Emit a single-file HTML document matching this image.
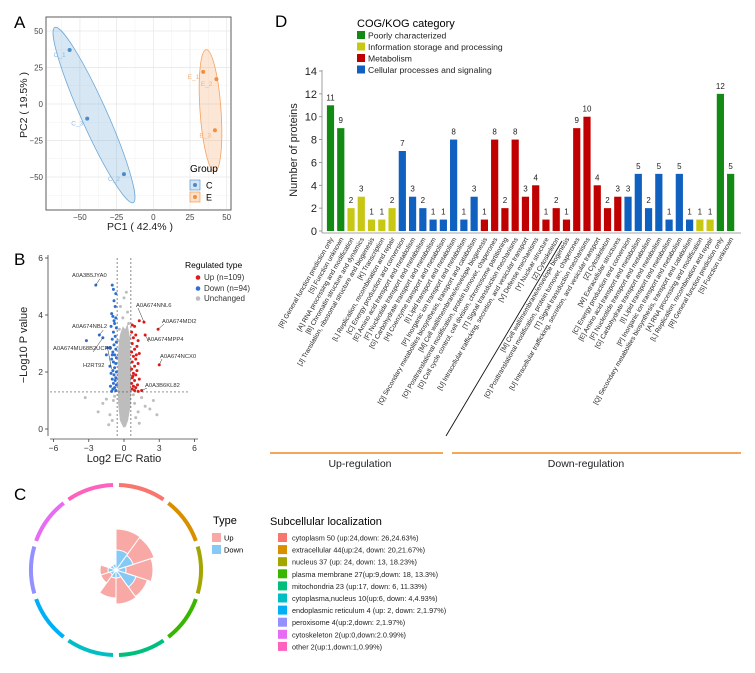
<!DOCTYPE html>
<html><head><meta charset="utf-8">
<style>
html,body{margin:0;padding:0;background:#fff;}
svg{display:block;font-family:"Liberation Sans",Arial,sans-serif;}
</style></head>
<body>
<svg id="fig" width="755" height="673" viewBox="0 0 755 673">
<g id="pA"></g>
<g id="pB"></g>
<g id="pC"></g>
<g id="pD"></g>
</svg>
<script>
// ---------- Panel A data ----------
const pcaNames = ["C_1","C_3","C_2","E_1","E_2","E_3"];
const pcaX = [-57,-45,-20,34,43,42];
const pcaY = [37,-10,-48,22,17,-18];
const pcaGroup = ["C","C","C","E","E","E"];
const pcaTicks = [-50,-25,0,25,50];
// ---------- Panel B data ----------
const volDownX=[-1.0,-0.9,-0.7,-0.85,-0.75,-1.05,-0.95,-0.7,-0.8,-1.1,-0.65,-0.9,-0.75,-1.0,-0.65,-0.85,-1.15,-0.7,-0.95,-0.8,-0.65,-1.05,-0.9,-0.7,-1.2,-0.8,-0.95,-0.65,-1.1,-0.85,-0.7,-1.0,-0.75,-0.9,-0.65,-1.15,-0.8,-0.95,-0.7,-1.05,-2.4,-3.2,-2.1,-1.8,-1.4,-1.5,-0.85,-1.0];
const volDownY=[5.05,4.9,4.75,4.5,4.3,4.05,3.95,3.9,3.7,3.6,3.55,3.4,3.25,3.15,3.05,2.95,2.85,2.8,2.7,2.6,2.5,2.45,2.35,2.3,2.2,2.15,2.05,2.0,1.95,1.9,1.8,1.75,1.7,1.6,1.55,1.5,1.45,1.4,1.35,1.32,5.05,3.1,3.3,3.2,2.85,2.6,3.8,2.6];
const volUpX=[0.7,0.9,1.3,1.7,2.9,1.8,0.65,1.0,0.8,1.2,0.7,1.1,0.9,0.65,1.3,0.8,1.0,0.7,1.2,3.0,0.9,0.65,1.1,0.8,1.0,0.7,1.3,0.9,0.65,1.15,0.8,1.0,0.7,1.5,0.9,1.2,0.75,1.05];
const volUpY=[3.65,3.6,3.8,3.75,3.5,3.3,3.4,3.3,3.2,3.1,3.0,2.9,2.8,2.7,2.65,2.55,2.45,2.35,2.3,2.25,2.2,2.1,2.05,1.95,1.9,1.8,1.75,1.7,1.6,1.55,1.5,1.45,1.4,1.35,1.35,1.32,1.85,2.6];
const volGreyX=[0.2,0,-0.3,0.3,-0.1,0.4,-0.4,0.1,0.5,-0.5,0.2,-0.2,0.45,-0.45,-3.3,2.5,1.8,-1.8,1.2,-1.2,2.2,-2.2,1.5,-1.5,0.9,-0.9,1.0,-1.0,2.8,0.8,-0.8,1.3,-1.3];
const volGreyY=[4.8,4.6,4.3,4.1,3.9,3.7,3.5,3.4,3.2,3.1,3.0,2.9,2.7,2.6,1.1,1.0,0.8,0.9,0.6,0.5,0.7,0.6,1.1,1.05,0.9,1.0,0.4,0.3,0.5,1.2,1.15,0.2,0.15];
const volTicksX=[-6,-3,0,3,6];
const volTicksY=[0,2,4,6];
const volLabels=["A0A3B5JYA0","A0A674NNL6","A0A674MDI2","A0A674NBL2","A0A674MU68B2UCP6","H2RT92","A0A674MPP4","A0A674NCX0","A0A3B6KL82"];
const volLabelPtX=[-2.4,1.7,2.9,-2.1,-1.8,-1.4,1.8,3.0,1.5];
const volLabelPtY=[5.05,3.75,3.5,3.3,3.2,2.85,3.3,2.25,1.35];
// ---------- Panel C data ----------
const locNames=["cytoplasm 50 (up:24,down: 26,24.63%)","extracellular 44(up:24, down: 20,21.67%)","nucleus 37 (up: 24, down: 13, 18.23%)","plasma membrane 27(up:9,down: 18, 13.3%)","mitochondria 23 (up:17, down: 6, 11.33%)","cytoplasma,nucleus 10(up:6, down: 4,4.93%)","endoplasmic reticulum 4 (up: 2, down: 2,1.97%)","peroxisome 4(up:2,down: 2,1.97%)","cytoskeleton 2(up:0,down:2.0.99%)","other 2(up:1,down:1,0.99%)"];
const locColors=["#F8766D","#D89000","#A3A500","#39B600","#00BF7D","#00BFC4","#00B0F6","#9590FF","#E76BF3","#FF62BC"];
const roseUp=[41,40,37,33,34,28,16,16,0,2];
const roseDown=[20,18,10,21,8,8,6,8,6,6];
// ---------- Panel D data ----------
const cogLabels=["[R] General function prediction only","[S] Function unknown","[A] RNA processing and modification","[B] Chromatin structure and dynamics","[J] Translation, ribosomal structure and biogenesis","[K] Transcription","[L] Replication, recombination and repair","[C] Energy production and conversion","[E] Amino acid transport and metabolism","[F] Nucleotide transport and metabolism","[G] Carbohydrate transport and metabolism","[H] Coenzyme transport and metabolism","[I] Lipid transport and metabolism","[P] Inorganic ion transport and metabolism","[Q] Secondary metabolites biosynthesis, transport and catabolism","[M] Cell wall/membrane/envelope biogenesis","[O] Posttranslational modification, protein turnover, chaperones","[D] Cell cycle control, cell division, chromosome partitioning","[T] Signal transduction mechanisms","[U] Intracellular trafficking, secretion, and vesicular transport","[V] Defense mechanisms","[Y] Nuclear structure","[Z] Cytoskeleton","[M] Cell wall/membrane/envelope biogenesis","[O] Posttranslational modification, protein turnover, chaperones","[T] Signal transduction mechanisms","[U] Intracellular trafficking, secretion, and vesicular transport","[Z] Cytoskeleton","[W] Extracellular structures","[C] Energy production and conversion","[E] Amino acid transport and metabolism","[F] Nucleotide transport and metabolism","[G] Carbohydrate transport and metabolism","[I] Lipid transport and metabolism","[P] Inorganic ion transport and metabolism","[Q] Secondary metabolites biosynthesis, transport and catabolism","[A] RNA processing and modification","[L] Replication, recombination and repair","[R] General function prediction only","[S] Function unknown"];
const cogValues=[11,9,2,3,1,1,2,7,3,2,1,1,8,1,3,1,8,2,8,3,4,1,2,1,9,10,4,2,3,3,5,2,5,1,5,1,1,1,12,5];
const cogCat=["G","G","Y","Y","Y","Y","Y","B","B","B","B","B","B","B","B","R","R","R","R","R","R","R","R","R","R","R","R","R","R","B","B","B","B","B","B","B","Y","Y","G","G"];
const cogTicks=[0,2,4,6,8,10,12,14];
const cogLegend=["Poorly characterized","Information storage and processing","Metabolism","Cellular processes and  signaling"];

const NS="http://www.w3.org/2000/svg";
function mk(parent,tag,attrs,text){const e=document.createElementNS(NS,tag);for(const k in attrs)e.setAttribute(k,attrs[k]);if(text!==undefined)e.textContent=text;parent.appendChild(e);return e;}

// ======== Panel A ========
(function(){
const g=document.getElementById('pA');
const L=46,R=231,T=17,B=210;
const xs=v=>153.3+v*36.7/25, ys=v=>104-v*36.5/25;
let t=mk(g,'text',{x:14,y:28,'font-size':17});t.textContent='A';

const bg=mk(g,'rect',{x:L,y:T,width:R-L,height:B-T,fill:'#fff',stroke:'#555','stroke-width':0.8});

for(const v of [-62.5,-37.5,-12.5,12.5,37.5]){mk(g,'line',{x1:xs(v),x2:xs(v),y1:T,y2:B,stroke:'#f2f2f2','stroke-width':0.5});mk(g,'line',{x1:L,x2:R,y1:ys(v),y2:ys(v),stroke:'#f2f2f2','stroke-width':0.5});}
pcaTicks.forEach(v=>{
 mk(g,'line',{x1:xs(v),x2:xs(v),y1:T,y2:B,stroke:'#e6e6e6','stroke-width':0.7});
 mk(g,'line',{x1:L,x2:R,y1:ys(v),y2:ys(v),stroke:'#e6e6e6','stroke-width':0.7});
 const a=mk(g,'text',{x:xs(v),y:B+10,'font-size':8,'text-anchor':'middle',fill:'#444'},String(v).replace('-','−'));
 
 const b=mk(g,'text',{x:L-3,y:ys(v)+3,'font-size':8,'text-anchor':'end',fill:'#444'},String(v).replace('-','−'));
 
});
mk(g,'rect',{x:L,y:T,width:R-L,height:B-T,fill:'none',stroke:'#555','stroke-width':0.8});
const e1=mk(g,'ellipse',{cx:94,cy:115,rx:96,ry:13,fill:'#6fa8d6','fill-opacity':0.28,stroke:'#6fa8d6','stroke-width':0.8,transform:'rotate(65.9 94 115)'});

const e2=mk(g,'ellipse',{cx:210.5,cy:110.5,rx:10.5,ry:61,fill:'#f4a15d','fill-opacity':0.25,stroke:'#f4a15d','stroke-width':0.8,transform:'rotate(-4 210.5 110.5)'});

pcaX.forEach((x,i)=>{
 const col=pcaGroup[i]==='C'?'#4a8ccb':'#f28e3c';
 const c=mk(g,'circle',{cx:xs(x),cy:ys(pcaY[i]),r:2,fill:col});
 
 const lab=mk(g,'text',{x:xs(x)-4,y:ys(pcaY[i])+7,'font-size':6.5,'text-anchor':'end',fill:pcaGroup[i]==='C'?'#8fbbe3':'#f6b07a'},pcaNames[i]);
 
});
let tx=mk(g,'text',{x:140,y:230,'font-size':10.5,'text-anchor':'middle',fill:'#222'},'PC1 ( 42.4% )');

tx=mk(g,'text',{x:0,y:0,'font-size':10.5,'text-anchor':'middle',fill:'#222',transform:'translate(27 105) rotate(-90)'},'PC2 ( 19.5% )');

tx=mk(g,'text',{x:190,y:172,'font-size':10},'Group');

[['C','#4a8ccb','#d5e5f3',180],['E','#f28e3c','#fbe1cc',192]].forEach(d=>{
 const r=mk(g,'rect',{x:190,y:d[3],width:10,height:10,fill:d[2],stroke:d[1],'stroke-width':0.6});
 
 mk(g,'circle',{cx:195,cy:d[3]+5,r:2,fill:d[1]});
 const l=mk(g,'text',{x:206,y:d[3]+8.5,'font-size':9},d[0]);
 
});
})();

// ======== Panel B ========
(function(){
const g=document.getElementById('pB');
const xs=v=>124+v*11.75, ys=v=>429-v*28.5;
let t=mk(g,'text',{x:14,y:265,'font-size':17},'B');

mk(g,'line',{x1:48,x2:48,y1:255,y2:436,stroke:'#444','stroke-width':0.8});
mk(g,'line',{x1:50,x2:198,y1:439,y2:439,stroke:'#444','stroke-width':0.8});
volTicksX.forEach(v=>{mk(g,'line',{x1:xs(v),x2:xs(v),y1:439,y2:442,stroke:'#444','stroke-width':0.8});
 const a=mk(g,'text',{x:xs(v),y:451,'font-size':8.5,'text-anchor':'middle',fill:'#333'},String(v).replace('-','−'));
 });
volTicksY.forEach(v=>{mk(g,'line',{x1:45,x2:48,y1:ys(v),y2:ys(v),stroke:'#444','stroke-width':0.8});
 const a=mk(g,'text',{x:43,y:ys(v)+3,'font-size':8.5,'text-anchor':'end',fill:'#333'},String(v));
 });
const cloud=[[-0.05,0.05],[0.15,0.08],[0.35,0.3],[0.55,0.8],[0.6,1.5],[0.55,2.5],[0.5,3.2],[0.3,3.7],[0.1,3.5],[-0.1,3.6],[-0.35,3.3],[-0.5,2.8],[-0.55,1.8],[-0.5,0.9],[-0.35,0.3]];
const cp=mk(g,'path',{d:'M'+cloud.map(p=>xs(p[0]).toFixed(1)+','+ys(p[1]).toFixed(1)).join('L')+'Z',fill:'#bdbdbd'});

const pts=(X,Y,col,nm)=>X.forEach((x,i)=>{const c=mk(g,'circle',{cx:xs(x),cy:ys(Y[i]),r:1.5,fill:col});});
pts(volGreyX,volGreyY,'#bdbdbd','unchanged-point');
pts(volDownX,volDownY,'#2f6fd1','down-point');
pts(volUpX,volUpY,'#e01919','up-point');
[-0.585,0.585].forEach(v=>mk(g,'line',{x1:xs(v),x2:xs(v),y1:258,y2:437,stroke:'#555','stroke-width':0.7,'stroke-dasharray':'2,2'}));
mk(g,'line',{x1:50,x2:190,y1:ys(1.3),y2:ys(1.3),stroke:'#555','stroke-width':0.7,'stroke-dasharray':'2,2'});
const lp=[[72,277],[136,307],[162,323],[72,328],[53,350],[83,367],[147,341],[160,358],[145,387]];
volLabels.forEach((s,i)=>{
 const px=xs(volLabelPtX[i]),py=ys(volLabelPtY[i]);
 const l=mk(g,'text',{x:lp[i][0],y:lp[i][1],'font-size':5.8,fill:'#333'},s);
 
 const lx=volLabelPtX[i]<0?Math.min(px+4,lp[i][0]+40):lp[i][0]+2;
 mk(g,'line',{x1:lx,y1:lp[i][1]+(volLabelPtX[i]<0?2:1),x2:px,y2:py,stroke:'#333','stroke-width':0.5});
});
let tx=mk(g,'text',{x:124,y:462,'font-size':11,'text-anchor':'middle',fill:'#222'},'Log2 E/C Ratio');

tx=mk(g,'text',{x:0,y:0,'font-size':11,'text-anchor':'middle',fill:'#222',transform:'translate(27 345) rotate(-90)'},'−Log10 P value');

tx=mk(g,'text',{x:185,y:268,'font-size':8.5},'Regulated type');

[['Up (n=109)','#e01919',280],['Down (n=94)','#2f6fd1',291],['Unchanged','#bdbdbd',301]].forEach(d=>{
 mk(g,'circle',{cx:198,cy:d[2]-2.5,r:2.3,fill:d[1]});
 const l=mk(g,'text',{x:204,y:d[2],'font-size':8,fill:'#333'},d[0]);
 
});
})();

// ======== Panel C ========
(function(){
const g=document.getElementById('pC');
const cx=116,cy=570;
let t=mk(g,'text',{x:14,y:500,'font-size':17},'C');

const pt=(r,a)=>[cx+r*Math.sin(a),cy-r*Math.cos(a)];
const n=roseUp.length, step=2*Math.PI/n;
function wedge(r,i,col,nm){ if(r<=0)return; const a0=i*step,a1=(i+1)*step;const p0=pt(r,a0),p1=pt(r,a1);
 const w=mk(g,'path',{d:`M${cx},${cy}L${p0[0]},${p0[1]}A${r},${r} 0 0 1 ${p1[0]},${p1[1]}Z`,fill:col,stroke:'#fff','stroke-width':1});
 }
roseUp.forEach((v,i)=>wedge(v,i,'#f8a9a6','rose-up-wedge'));
roseDown.forEach((v,i)=>wedge(v,i,'#86c9f5','rose-down-wedge'));
const R=85;
locColors.forEach((c,i)=>{const a0=i*step+0.035,a1=(i+1)*step-0.035;const p0=pt(R,a0),p1=pt(R,a1);
 const arc=mk(g,'path',{d:`M${p0[0]},${p0[1]}A${R},${R} 0 0 1 ${p1[0]},${p1[1]}`,fill:'none',stroke:c,'stroke-width':4});
 });
let tx=mk(g,'text',{x:213,y:524,'font-size':11},'Type');

[['Up','#f8a9a6',533],['Down','#86c9f5',545]].forEach(d=>{
 const r=mk(g,'rect',{x:212,y:d[2],width:9,height:9,fill:d[1]});
 const l=mk(g,'text',{x:224,y:d[2]+7.5,'font-size':7.5},d[0]);});
tx=mk(g,'text',{x:270,y:525,'font-size':11},'Subcellular localization');

locNames.forEach((s,i)=>{const y=533+i*12.1;
 const r=mk(g,'rect',{x:278,y:y,width:9,height:9,fill:locColors[i]});
 const l=mk(g,'text',{x:292,y:y+7.5,'font-size':7.3,fill:'#222'},s);});
})();

// ======== Panel D ========
(function(){
const g=document.getElementById('pD');
const colors={G:'#138a13',Y:'#c8c814',R:'#c00000',B:'#1060c0'};
const xs=i=>330.5+i*10.26, ys=v=>231-v*160/14;
let t=mk(g,'text',{x:275,y:27,'font-size':17},'D');

let tx=mk(g,'text',{x:357,y:27,'font-size':11},'COG/KOG category');

['G','Y','R','B'].forEach((k,i)=>{const y=31+i*11.5;
 const r=mk(g,'rect',{x:357,y:y,width:8,height:8,fill:colors[k]});
 const l=mk(g,'text',{x:368,y:y+7.5,'font-size':8.6,fill:'#222'},cogLegend[i]);});
mk(g,'line',{x1:322,x2:322,y1:70,y2:233,stroke:'#888','stroke-width':0.8});
mk(g,'line',{x1:322,x2:741,y1:233,y2:233,stroke:'#888','stroke-width':0.8});
cogTicks.forEach(v=>{mk(g,'line',{x1:319,x2:322,y1:ys(v),y2:ys(v),stroke:'#888','stroke-width':0.8});
 const a=mk(g,'text',{x:317,y:ys(v)+4,'font-size':11,'text-anchor':'end',fill:'#222'},String(v));
 });
tx=mk(g,'text',{x:0,y:0,'font-size':11,'text-anchor':'middle',fill:'#222',transform:'translate(297 150) rotate(-90)'},'Number of proteins');

cogValues.forEach((v,i)=>{const x=xs(i);
 const b=mk(g,'rect',{x:x-3.6,y:ys(v),width:7.2,height:ys(0)-ys(v),fill:colors[cogCat[i]]});
 
 const l=mk(g,'text',{x:x,y:ys(v)-5,'font-size':8,'text-anchor':'middle',fill:'#222'},String(v));
 
 const c=mk(g,'text',{x:0,y:0,'font-size':6.6,'text-anchor':'end',fill:'#222',transform:`translate(${x+3} 239) rotate(-60)`},cogLabels[i]);
 
});
mk(g,'line',{x1:446,y1:436,x2:562,y2:241,stroke:'#111','stroke-width':0.9});
[[270,443],[452,741]].forEach((s,i)=>{const l=mk(g,'line',{x1:s[0],x2:s[1],y1:453,y2:453,stroke:'#f08a24','stroke-width':1.5});
 });
tx=mk(g,'text',{x:360,y:467,'font-size':10.5,'text-anchor':'middle',fill:'#222'},'Up-regulation');

tx=mk(g,'text',{x:586,y:467,'font-size':10.5,'text-anchor':'middle',fill:'#222'},'Down-regulation');

})();
</script>
</body></html>
